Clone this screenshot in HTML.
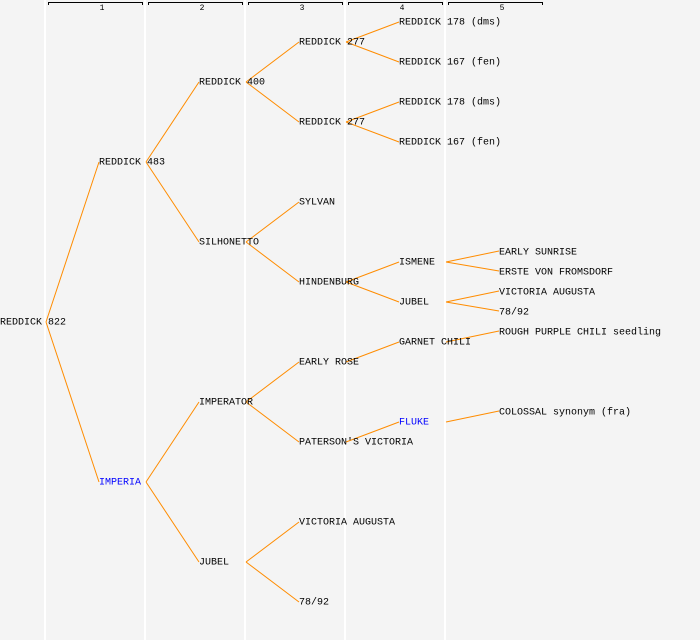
<!DOCTYPE html>
<html><head><meta charset="utf-8"><style>
html,body{margin:0;padding:0;background:#f4f4f4;}
svg{display:block;}
text{font-family:"Liberation Mono","DejaVu Sans Mono",monospace;font-size:10px;fill:#000;dominant-baseline:middle;}
</style></head><body>
<svg width="700" height="640" xmlns="http://www.w3.org/2000/svg">
<rect width="700" height="640" fill="#f4f4f4"/>
<g stroke="#fff" stroke-width="2">
<line x1="45" y1="0" x2="45" y2="640"/><line x1="145" y1="0" x2="145" y2="640"/>
<line x1="245" y1="0" x2="245" y2="640"/><line x1="345" y1="0" x2="345" y2="640"/>
<line x1="445" y1="0" x2="445" y2="640"/>
</g>
<g stroke="#000" stroke-width="1" fill="none">
<path d="M48.5,5V2.5H142.5V5"/><path d="M148.5,5V2.5H242.5V5"/><path d="M248.5,5V2.5H342.5V5"/><path d="M348.5,5V2.5H442.5V5"/><path d="M448.5,5V2.5H542.5V5"/>
</g>
<g style="font-size:8px"><text x="102" y="8" text-anchor="middle" style="font-size:8px">1</text><text x="202" y="8" text-anchor="middle" style="font-size:8px">2</text><text x="302" y="8" text-anchor="middle" style="font-size:8px">3</text><text x="402" y="8" text-anchor="middle" style="font-size:8px">4</text><text x="502" y="8" text-anchor="middle" style="font-size:8px">5</text></g>
<g stroke="#ff8c00" stroke-width="1" fill="none">
<path d="M46,322L99,162M46,322L99,482"/>
<path d="M146,162L199,82M146,162L199,242M146,482L199,402M146,482L199,562"/>
<path d="M246,82L299,42M246,82L299,122M246,242L299,202M246,242L299,282M246,402L299,362M246,402L299,442M246,562L299,522M246,562L299,602"/>
<path d="M346,42L399,22M346,42L399,62M346,122L399,102M346,122L399,142M346,282L399,262M346,282L399,302M346,362L399,342M346,442L399,422"/>
<path d="M446,262L499,251M446,262L499,271M446,302L499,291M446,302L499,311M446,342L499,331M446,422L499,411"/>
</g>
<text x="0" y="322">REDDICK 822</text>
<text x="99" y="162">REDDICK 483</text>
<text x="99" y="482" style="fill:#0000ff">IMPERIA</text>
<text x="199" y="82">REDDICK 400</text>
<text x="199" y="242">SILHONETTO</text>
<text x="199" y="402">IMPERATOR</text>
<text x="199" y="562">JUBEL</text>
<text x="299" y="42">REDDICK 277</text>
<text x="299" y="122">REDDICK 277</text>
<text x="299" y="202">SYLVAN</text>
<text x="299" y="282">HINDENBURG</text>
<text x="299" y="362">EARLY ROSE</text>
<text x="299" y="442">PATERSON'S VICTORIA</text>
<text x="299" y="522">VICTORIA AUGUSTA</text>
<text x="299" y="602">78/92</text>
<text x="399" y="22">REDDICK 178 (dms)</text>
<text x="399" y="62">REDDICK 167 (fen)</text>
<text x="399" y="102">REDDICK 178 (dms)</text>
<text x="399" y="142">REDDICK 167 (fen)</text>
<text x="399" y="262">ISMENE</text>
<text x="399" y="302">JUBEL</text>
<text x="399" y="342">GARNET CHILI</text>
<text x="399" y="422" style="fill:#0000ff">FLUKE</text>
<text x="499" y="252">EARLY SUNRISE</text>
<text x="499" y="272">ERSTE VON FROMSDORF</text>
<text x="499" y="292">VICTORIA AUGUSTA</text>
<text x="499" y="312">78/92</text>
<text x="499" y="332">ROUGH PURPLE CHILI seedling</text>
<text x="499" y="412">COLOSSAL synonym (fra)</text>
</svg>
</body></html>
